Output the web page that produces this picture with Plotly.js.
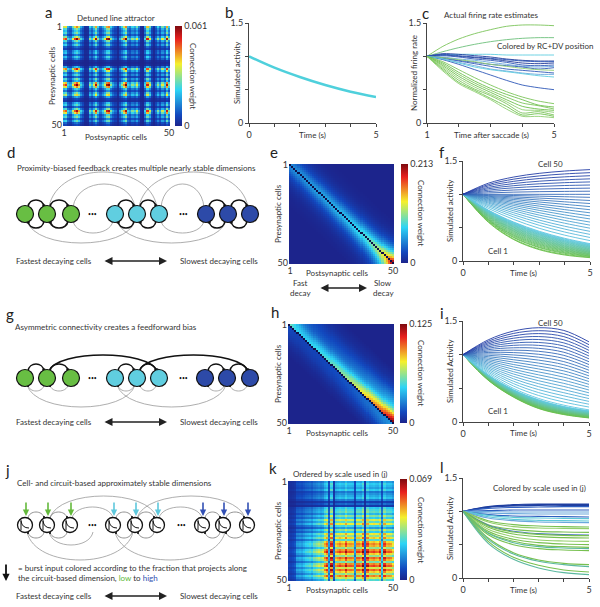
<!DOCTYPE html>
<html><head><meta charset="utf-8">
<script src="https://cdn.plot.ly/plotly-3.0.1.min.js"></script>
<style>html,body{margin:0;padding:0;background:#fff}#chart{width:600px;height:607px}</style>
</head><body><div id="chart"></div>
<script>
// ---------------- DATA ----------------
const cells = [1,2,3,4,5,6,7,8,9,10,11,12,13,14,15,16,17,18,19,20,21,22,23,24,25,26,27,28,29,30,31,32,33,34,35,36,37,38,39,40,41,42,43,44,45,46,47,48,49,50];

// panel a: detuned line attractor (row x column weights)
const maxA = 0.061;
const rowWeightA = [0.75,0.5,0.4,0.5,0.3,0.6,1.0,0.5,0.3,0.45,0.2,0.12,0.35,0.4,0.2,0.4,0.25,0.06,0.03,0.06,0.35,0.9,0.6,0.3,0.45,0.2,0.5,0.35,0.8,1.0,0.75,0.4,0.25,0.5,0.65,0.3,0.12,0.08,0.35,0.45,0.2,0.5,0.95,0.75,0.4,0.5,0.25,0.45,0.2,0.12];
const colWeightA = [0.75,0.85,0.4,0.3,0.6,0.85,1.0,0.75,0.4,0.25,0.06,0.08,0.5,0.35,0.6,0.95,0.5,0.25,0.4,0.6,0.95,1.0,0.5,0.3,0.2,0.06,0.3,0.5,0.75,1.0,0.4,0.3,0.5,0.4,0.6,0.3,0.06,0.03,0.4,0.9,0.6,0.2,0.06,0.25,0.5,0.3,0.6,0.4,0.95,0.5];

// panel b
const bTime = [0,1,2,3,4,5];
const bActivity = [1,0.83,0.69,0.57,0.47,0.39];

// panel c: actual firing rate estimates
const cTime = [1,1.5,2,2.5,3,3.5,4,4.5,5];
const cRates = [
 [1,1.15,1.26,1.34,1.4,1.45,1.47,1.47,1.46],
 [1,1.07,1.13,1.18,1.22,1.25,1.27,1.28,1.28],
 [1,1.02,1.03,1.03,1.03,1.02,1.02,1.02,1.02],
 [1,1.04,1.03,1.01,0.99,0.96,0.94,0.93,0.93],
 [1,1.03,1.01,0.99,0.97,0.95,0.93,0.92,0.92],
 [1,1.02,1.0,0.98,0.96,0.93,0.9,0.89,0.9],
 [1,1.01,0.99,0.96,0.94,0.91,0.87,0.86,0.87],
 [1,0.99,0.96,0.94,0.91,0.88,0.85,0.84,0.85],
 [1,0.98,0.94,0.91,0.88,0.86,0.84,0.81,0.83],
 [1,0.97,0.93,0.89,0.85,0.81,0.79,0.77,0.75],
 [1,0.98,0.95,0.92,0.88,0.85,0.82,0.8,0.79],
 [1,0.96,0.91,0.86,0.81,0.78,0.75,0.73,0.73],
 [1,0.95,0.88,0.8,0.72,0.64,0.57,0.53,0.5],
 [1,0.96,0.9,0.84,0.8,0.77,0.74,0.71,0.69],
 [1,0.92,0.8,0.68,0.57,0.47,0.39,0.33,0.29],
 [1,0.9,0.76,0.63,0.52,0.43,0.35,0.27,0.24],
 [1,0.88,0.73,0.6,0.49,0.39,0.3,0.26,0.21],
 [1,0.86,0.7,0.57,0.46,0.35,0.25,0.21,0.19],
 [1,0.84,0.67,0.54,0.43,0.32,0.2,0.19,0.16],
 [1,0.82,0.64,0.51,0.41,0.29,0.15,0.17,0.12],
 [1,0.8,0.61,0.49,0.37,0.25,0.12,0.14,0.1],
 [1,0.78,0.59,0.47,0.35,0.21,0.1,0.1,0.08]
];
const cColors = ['#7cc45a','#6cc07a','#5fcde0','#1f3a9a','#2f58b8','#1f3a9a','#2f58b8','#6aa8dc','#2f58b8','#2f58b8','#8fcf70','#6aa8dc','#2f58b8','#5fcde0','#7cc45a','#6cbf4c','#7cc45a','#6cbf4c','#8fcf70','#7cc45a','#6cbf4c','#8fcf70'];

// panel e: proximity-biased feedback
const maxE = 0.213;
const eCellStrength = [0.22,0.22,0.22,0.23,0.23,0.23,0.23,0.24,0.24,0.24,0.25,0.25,0.25,0.26,0.26,0.26,0.27,0.27,0.27,0.28,0.28,0.29,0.29,0.30,0.30,0.31,0.31,0.32,0.33,0.33,0.34,0.35,0.36,0.37,0.38,0.39,0.40,0.41,0.43,0.45,0.47,0.49,0.52,0.55,0.58,0.62,0.68,0.75,0.86,1.0];
const eOffsetProfile = [null,1,0.9,0.78,0.66,0.55,0.45,0.37,0.3,0.24,0.19,0.15,0.12,0.09,0.07,0.05,0.04,0.03,0.02,0.015,0.01,0,0,0,0,0,0,0,0,0,0,0,0,0,0,0,0,0,0,0,0,0,0,0,0,0,0,0,0,0];

// panel h: asymmetric connectivity
const maxH = 0.125;
const hCellStrength = [0.45,0.42,0.39,0.37,0.36,0.35,0.35,0.35,0.35,0.36,0.36,0.37,0.37,0.38,0.38,0.39,0.4,0.4,0.41,0.42,0.43,0.44,0.45,0.46,0.47,0.48,0.49,0.5,0.52,0.53,0.55,0.56,0.58,0.6,0.62,0.64,0.66,0.68,0.7,0.72,0.74,0.76,0.78,0.8,0.82,0.85,0.88,0.92,0.96,1.0];
const hUpperProfile = [null,1,0.95,0.88,0.8,0.7,0.6,0.52,0.45,0.4,0.36,0.33,0.3,0.27,0.24,0.21,0.18,0.15,0.12,0.1,0.08,0.06,0.05,0.04,0.03,0.02,0.01,0,0,0,0,0,0,0,0,0,0,0,0,0,0,0,0,0,0,0,0,0,0,0];
const hLowerProfile = [null,0.25,0.25,0.24,0.22,0.2,0.18,0.15,0.12,0.1,0.08,0.06,0.04,0.03,0.02,0.01,0,0,0,0,0,0,0,0,0,0,0,0,0,0,0,0,0,0,0,0,0,0,0,0,0,0,0,0,0,0,0,0,0,0];

// panel k: ordered by scale used in (j)
const maxK = 0.069;
const rowWeightK = [0.33,0.42,0.38,0.33,0.42,0.24,0.3,0.35,0.4,0.25,0.1,0.2,0.08,0.42,0.48,0.52,0.38,0.58,0.43,0.7,0.52,0.75,0.48,0.32,0.6,0.43,0.75,0.6,0.8,0.5,0.8,0.9,0.85,0.6,0.9,1.0,0.8,0.6,0.95,0.85,0.55,0.9,1.0,0.7,0.95,0.8,0.6,0.9,0.7,0.5];
const colWeightK = [0.1,0.1,0.12,0.15,0.3,0.32,0.3,0.35,0.4,0.42,0.45,0.4,0.5,0.55,0.6,0.55,0.6,0.8,0.9,0.3,1.0,0.2,0.75,0.8,0.85,0.8,0.78,0.95,0.8,0.82,0.8,0.3,0.85,0.85,0.8,1.0,0.2,0.95,0.8,0.82,0.85,0.8,0.78,0.9,0.4,0.95,0.8,0.82,0.8,0.7];

// panels f, i, l: simulated activity
const simTime = [0,1,2,3,4,5];
const fActivity = [
 [1,0.58,0.32,0.17,0.09,0.05],[1,0.59,0.33,0.18,0.1,0.058],[1,0.6,0.35,0.2,0.115,0.067],[1,0.61,0.36,0.21,0.126,0.075],[1,0.62,0.375,0.225,0.137,0.083],
 [1,0.621,0.386,0.239,0.149,0.092],[1,0.631,0.398,0.251,0.159,0.1],[1,0.641,0.411,0.263,0.169,0.108],[1,0.65,0.423,0.275,0.179,0.116],[1,0.66,0.436,0.287,0.19,0.125],
 [1,0.668,0.446,0.298,0.199,0.133],[1,0.676,0.457,0.309,0.209,0.141],[1,0.684,0.468,0.32,0.219,0.15],[1,0.691,0.477,0.33,0.228,0.158],[1,0.698,0.487,0.34,0.237,0.166],
 [1,0.706,0.498,0.352,0.248,0.175],[1,0.712,0.507,0.361,0.257,0.183],[1,0.718,0.516,0.37,0.266,0.191],[1,0.725,0.526,0.381,0.276,0.2],[1,0.731,0.534,0.391,0.286,0.208],
 [1,0.736,0.542,0.399,0.293,0.216],[1,0.742,0.551,0.409,0.303,0.225],[1,0.747,0.558,0.417,0.311,0.233],[1,0.752,0.566,0.425,0.32,0.241],[1,0.758,0.575,0.435,0.33,0.25],
 [1,0.764,0.584,0.446,0.341,0.26],[1,0.789,0.623,0.491,0.388,0.306],[1,0.812,0.66,0.536,0.435,0.353],[1,0.832,0.692,0.576,0.479,0.399],[1,0.85,0.723,0.614,0.522,0.445],
 [1,0.868,0.753,0.654,0.567,0.492],[1,0.883,0.78,0.689,0.609,0.538],[1,0.898,0.806,0.724,0.65,0.584],[1,0.912,0.832,0.759,0.692,0.631],[1,0.925,0.855,0.791,0.732,0.677],
 [1,0.937,0.878,0.823,0.771,0.723],[1,0.949,0.9,0.854,0.81,0.769],[1,0.96,0.922,0.885,0.85,0.816],[1,0.971,0.942,0.915,0.888,0.862],[1,0.981,0.962,0.944,0.926,0.908],
 [1,0.991,0.982,0.973,0.964,0.955],[1,1,1,1,1,1],[1,1.021,1.033,1.04,1.044,1.047],[1,1.042,1.065,1.079,1.087,1.093],[1,1.063,1.098,1.119,1.132,1.14],
 [1,1.084,1.13,1.158,1.175,1.186],[1,1.104,1.162,1.197,1.218,1.232],[1,1.126,1.195,1.237,1.262,1.279],[1,1.146,1.228,1.276,1.306,1.325],[1,1.167,1.26,1.315,1.349,1.371]
];
const iActivity = [
 [1,0.62,0.37,0.2,0.11,0.06],[1,0.623,0.375,0.205,0.115,0.064],[1,0.627,0.379,0.211,0.12,0.069],[1,0.63,0.384,0.216,0.125,0.073],[1,0.633,0.388,0.222,0.13,0.078],
 [1,0.637,0.393,0.227,0.135,0.082],[1,0.64,0.398,0.233,0.14,0.086],[1,0.643,0.402,0.238,0.145,0.091],[1,0.647,0.407,0.243,0.15,0.095],[1,0.65,0.411,0.249,0.155,0.099],
 [1,0.653,0.416,0.254,0.16,0.104],[1,0.657,0.42,0.26,0.165,0.108],[1,0.66,0.425,0.265,0.17,0.113],[1,0.663,0.43,0.27,0.175,0.117],[1,0.667,0.434,0.276,0.18,0.121],
 [1,0.67,0.439,0.281,0.185,0.126],[1,0.673,0.443,0.287,0.19,0.13],[1,0.677,0.448,0.292,0.195,0.134],[1,0.68,0.453,0.298,0.2,0.139],[1,0.683,0.457,0.303,0.205,0.143],
 [1,0.687,0.462,0.308,0.21,0.148],[1,0.69,0.466,0.314,0.215,0.152],[1,0.693,0.471,0.319,0.22,0.156],[1,0.697,0.475,0.325,0.225,0.161],[1,0.7,0.48,0.33,0.23,0.165],
 [1,0.72,0.5,0.35,0.25,0.18],[1,0.741,0.535,0.394,0.296,0.222],[1,0.762,0.571,0.437,0.342,0.264],[1,0.783,0.606,0.481,0.389,0.306],[1,0.803,0.642,0.525,0.435,0.348],
 [1,0.824,0.677,0.569,0.481,0.39],[1,0.845,0.713,0.613,0.528,0.433],[1,0.866,0.748,0.656,0.574,0.475],[1,0.887,0.783,0.7,0.62,0.517],[1,0.908,0.819,0.744,0.666,0.559],
 [1,0.928,0.854,0.788,0.713,0.601],[1,0.949,0.89,0.831,0.759,0.643],[1,0.97,0.925,0.875,0.805,0.685],[1,0.991,0.96,0.919,0.851,0.727],[1,1.012,0.996,0.963,0.897,0.769],
 [1,1.033,1.031,1.006,0.944,0.811],[1,1.053,1.067,1.05,0.99,0.853],[1,1.074,1.102,1.094,1.036,0.895],[1,1.095,1.138,1.138,1.083,0.938],[1,1.116,1.173,1.181,1.129,0.98],
 [1,1.137,1.208,1.225,1.175,1.022],[1,1.158,1.244,1.269,1.221,1.064],[1,1.178,1.279,1.313,1.268,1.106],[1,1.199,1.315,1.356,1.314,1.148],[1,1.22,1.35,1.4,1.36,1.19]
];
const lActivity = [
 [1,1.07,1.1,1.11,1.11,1.11],[1,1.065,1.09,1.1,1.1,1.1],[1,1.06,1.08,1.09,1.09,1.09],[1,1.045,1.06,1.065,1.07,1.07],
 [1,1.01,1.02,1.02,1.02,1.02],[1,0.995,0.99,0.99,0.99,0.99],[1,0.975,0.965,0.96,0.96,0.96],[1,0.95,0.93,0.925,0.92,0.915],
 [1,0.94,0.91,0.9,0.895,0.89],[1,0.92,0.88,0.865,0.86,0.855],[1,0.9,0.86,0.84,0.835,0.83],[1,0.86,0.8,0.78,0.77,0.765],
 [1,0.84,0.77,0.75,0.745,0.74],[1,0.8,0.73,0.7,0.69,0.685],[1,0.79,0.7,0.665,0.65,0.645],[1,0.78,0.69,0.655,0.64,0.635],
 [1,0.76,0.66,0.62,0.605,0.6],[1,0.73,0.62,0.57,0.555,0.55],[1,0.7,0.58,0.53,0.51,0.5],[1,0.68,0.55,0.49,0.47,0.46],
 [1,0.67,0.53,0.47,0.45,0.44],[1,0.65,0.5,0.44,0.42,0.41],[1,0.6,0.38,0.27,0.22,0.2],[1,0.58,0.36,0.25,0.2,0.17],
 [1,0.55,0.31,0.19,0.12,0.09],[1,0.52,0.28,0.15,0.08,0.05]
];
const lColors = ['#1f3fa0','#1f3fa0','#1f3fa0','#2f5fc0','#2f5fc0','#6aa8dc','#6aa8dc','#2f5fc0','#5ec8d8','#5ec8d8','#6aa8dc','#78c050','#94cf6a','#78c050','#4a78c0','#78c050','#78c050','#94cf6a','#78c050','#78c050','#5bb8a0','#78c050','#78c050','#5bb8a0','#78c050','#5bb8a0'];

// ---------------- BUILD ----------------
const W = 600, H = 607;
const dx = (a,b) => [a/W, b/W];
const dy = (top,bottom) => [1-bottom/H, 1-top/H];
const jet = [[0,'rgb(28,36,140)'],[0.11,'rgb(18,72,190)'],[0.36,'rgb(45,212,245)'],[0.62,'rgb(245,240,45)'],[0.87,'rgb(232,32,30)'],[1,'rgb(125,10,15)']];

function cellColor(k){ // k=0..49 : green -> cyan -> blue
  const g=[104,190,70], c=[95,200,225], b=[35,60,165];
  const t=k/49; let a,z,u;
  if(t<0.5){a=g;z=c;u=t/0.5;} else {a=c;z=b;u=(t-0.5)/0.5;}
  return 'rgb('+a.map((v,i)=>Math.round(v+(z[i]-v)*u)).join(',')+')';
}
function cbar(left, top, bottom, max, label){
  return {x:left/W, xanchor:'left', y:1-(top+bottom)/2/H, yanchor:'middle', len:bottom-top, lenmode:'pixels',
    thickness:7, xpad:0, ypad:0, outlinewidth:0, tickvals:[0,max], ticktext:['0',label], ticks:'',
    tickfont:{size:9,color:'#333'}};
}

const zA = rowWeightA.map(r => colWeightA.map(c => maxA*r*c));
const zE = cells.map((_,i)=>cells.map((_,j)=>{const p=eOffsetProfile[Math.abs(i-j)]; return p===null?null:maxE*(eCellStrength[i]+eCellStrength[j])/2*p;}));
const zH = cells.map((_,i)=>cells.map((_,j)=>{const d=Math.abs(i-j); const p=(j>i?hUpperProfile:hLowerProfile)[d]; return p===null?null:maxH*(hCellStrength[i]+hCellStrength[j])/2*p;}));
const zK = rowWeightK.map(r => colWeightK.map(c => maxK*r*c));

const traces = [];
const hm = (z,xa,ya,max,cb) => ({type:'heatmap',z,x:cells,y:cells,xaxis:xa,yaxis:ya,colorscale:jet,zmin:0,zmax:max,colorbar:cb,hoverinfo:'skip'});
traces.push(hm(zA,'x','y',maxA,cbar(175,26,126,maxA,'0.061')));
traces.push(hm(zE,'x4','y4',maxE,cbar(401,164,263,maxE,'0.213')));
traces.push(hm(zH,'x6','y6',maxH,cbar(400,324,423,maxH,'0.125')));
traces.push(hm(zK,'x8','y8',maxK,cbar(400,479,580,maxK,'0.069')));

traces.push({type:'scatter',mode:'lines',x:bTime,y:bActivity,xaxis:'x2',yaxis:'y2',line:{color:'#4fd0dc',width:2.5,shape:'spline'},hoverinfo:'skip'});
cRates.forEach((s,i)=>traces.push({type:'scatter',mode:'lines',x:cTime,y:s,xaxis:'x3',yaxis:'y3',line:{color:cColors[i],width:0.9,shape:'spline',smoothing:0.8},hoverinfo:'skip'}));
fActivity.forEach((s,i)=>traces.push({type:'scatter',mode:'lines',x:simTime,y:s,xaxis:'x5',yaxis:'y5',line:{color:cellColor(i),width:0.9,shape:'spline'},hoverinfo:'skip'}));
iActivity.forEach((s,i)=>traces.push({type:'scatter',mode:'lines',x:simTime,y:s,xaxis:'x7',yaxis:'y7',line:{color:cellColor(i),width:0.9,shape:'spline'},hoverinfo:'skip'}));
lActivity.forEach((s,i)=>traces.push({type:'scatter',mode:'lines',x:simTime,y:s,xaxis:'x9',yaxis:'y9',line:{color:lColors[i],width:1.1,shape:'spline'},hoverinfo:'skip'}));
traces.push({type:'scatter',x:[],y:[],xaxis:'x10',yaxis:'y10',hoverinfo:'skip'});

// axes
const tf = {size:9,color:'#333'};
function hmX(dom,anchor){return {domain:dom,anchor,range:[0.5,50.5],tickvals:[1,50],ticks:'',showgrid:false,zeroline:false,showline:false,tickfont:tf,fixedrange:true};}
function hmY(dom,anchor){return {domain:dom,anchor,range:[50.5,0.5],tickvals:[1,50],ticks:'',showgrid:false,zeroline:false,showline:false,tickfont:tf,fixedrange:true};}
function lnX(dom,anchor,range,tv,tt){return {domain:dom,anchor,range,tickvals:tv,ticktext:tt,showline:true,linecolor:'#444',linewidth:1,ticks:'outside',ticklen:3,tickcolor:'#444',showgrid:false,zeroline:false,tickfont:tf,fixedrange:true};}
const yTv=[0,0.5,1,1.5], yTt=['0','','','1.5'];
const tTv=[0,1,2,3,4,5], tTt=['0','','','','','5'];

const layout = {
  width:W, height:H, margin:{l:0,r:0,t:0,b:0}, showlegend:false,
  paper_bgcolor:'#fff', plot_bgcolor:'rgba(0,0,0,0)',
  font:{family:'Lato, "Open Sans", sans-serif', size:9, color:'#333'},
  xaxis:hmX(dx(63,170),'y'), yaxis:hmY(dy(26,126),'x'),
  xaxis2:lnX(dx(249,376),'y2',[0,5],tTv,tTt), yaxis2:lnX(dy(23,123),'x2',[0,1.5],yTv,yTt),
  xaxis3:lnX(dx(427,554),'y3',[1,5],[1,2,3,4,5],['1','','','','5']), yaxis3:lnX(dy(23,123),'x3',[0,1.5],yTv,yTt),
  xaxis4:hmX(dx(289,394),'y4'), yaxis4:hmY(dy(164,264),'x4'),
  xaxis5:lnX(dx(463,590),'y5',[0,5],tTv,tTt), yaxis5:lnX(dy(161,261),'x5',[0,1.5],yTv,yTt),
  xaxis6:hmX(dx(288,394),'y6'), yaxis6:hmY(dy(324,424),'x6'),
  xaxis7:lnX(dx(463,589),'y7',[0,5],tTv,tTt), yaxis7:lnX(dy(321,422),'x7',[0,1.5],yTv,yTt),
  xaxis8:hmX(dx(288,394),'y8'), yaxis8:hmY(dy(481,581),'x8'),
  xaxis9:lnX(dx(463,589),'y9',[0,5],tTv,tTt), yaxis9:lnX(dy(478,578),'x9',[0,1.5],yTv,yTt),
  xaxis10:{domain:[0,1],anchor:'y10',range:[0,W],visible:false,fixedrange:true},
  yaxis10:{domain:[0,1],anchor:'x10',range:[H,0],visible:false,fixedrange:true}
};

// ---------- diagrams & text ----------
const shapes = [], ann = [];
const X='x10', Y='y10';
// dark backing for the heatmap diagonals (empty cells)
[['x4','y4'],['x6','y6']].forEach(([xa,ya])=>shapes.push({type:'rect',xref:xa,yref:ya,x0:0.5,x1:50.5,y0:0.5,y1:50.5,fillcolor:'#10104a',line:{width:0},layer:'below'}));
function circ(cx,cy,r,fill,lc,w){shapes.push({type:'circle',xref:X,yref:Y,x0:cx-r,x1:cx+r,y0:cy-r,y1:cy+r,fillcolor:fill,line:{color:lc,width:w},layer:'above'});}
function pth(d,color,w){shapes.push({type:'path',xref:X,yref:Y,path:d,fillcolor:'rgba(0,0,0,0)',line:{color,width:w},layer:'above'});}
function arc(x1,x2,y0,peak,color,w){const cy=y0+(peak-y0)/0.75; const k=(x2-x1)*0.08; pth(`M ${x1},${y0} C ${x1+k},${cy} ${x2-k},${cy} ${x2},${y0}`,color,w);}
function dot(x,y,r){circ(x,y,r,'#111','#111',0);}
function T(text,x,y,o){ann.push(Object.assign({text,x,y,xref:X,yref:Y,showarrow:false,xanchor:'center',yanchor:'middle',font:{size:8}},o||{}));}
function dbl(x1,x2,y){ann.push({x:x2,y,ax:x1,ay:y,xref:X,yref:Y,axref:X,ayref:Y,text:'',showarrow:true,arrowhead:2,startarrowhead:2,arrowside:'end+start',arrowsize:1,startarrowsize:1,arrowwidth:1.6,arrowcolor:'#222'});}
function down(x,y1,y2,color,w){ann.push({x,y:y2,ax:x,ay:y1,xref:X,yref:Y,axref:X,ayref:Y,text:'',showarrow:true,arrowhead:2,arrowsize:0.8,arrowwidth:w,arrowcolor:color});}

const GREEN='rgb(104,190,67)', CYAN='rgb(96,206,224)', BLUE='rgb(45,74,168)';
const fills=[GREEN,GREEN,GREEN,CYAN,CYAN,CYAN,BLUE,BLUE,BLUE];
const pairs=[[0,1],[1,2],[3,4],[4,5],[6,7],[7,8]];

// panel d
{ const y=214, xs=[25,47,71,115,137,159,206,228,250], r=8.5;
  arc(49,157,y-7,172,'#999',0.8); arc(73,135,y-7,184,'#999',0.8); arc(139,248,y-7,172,'#999',0.8); arc(161,204,y-7,184,'#999',0.8);
  arc(27,135,y+7,243,'#999',0.8); arc(117,226,y+7,243,'#999',0.8); arc(73,113,y+7,233,'#999',0.8); arc(161,204,y+7,233,'#999',0.8);
  pairs.forEach(([a,b])=>{const xa=xs[a],xb=xs[b];
    arc(xa+3,xb-3,y-7,y-14,'#111',1.7); dot(xb-3,y-8,1.8);
    arc(xb-3,xa+3,y+7,y+14,'#111',1.7); dot(xa+3,y+8,1.8);});
  xs.forEach((x,i)=>circ(x,y,r,fills[i],'#111',1.2));
  T('•••',92,y,{font:{size:5,color:'#111'}}); T('•••',183,y,{font:{size:5,color:'#111'}});
  T('Proximity-biased feedback creates multiple nearly stable dimensions',136,168);
  T('Fastest decaying cells',54,261); T('Slowest decaying cells',219,261); dbl(103,167,261);
}
// panel g
{ const y=378, xs=[25,47,71,115,137,159,205,227,250], r=8.5;
  arc(27,135,y+7,407,'#999',0.8); arc(117,226,y+7,407,'#999',0.8);
  arc(49,157,y-7,355,'#111',1.6); dot(157,y-8,1.8); arc(139,248,y-7,355,'#111',1.6); dot(248,y-8,1.8);
  pairs.forEach(([a,b])=>{const xa=xs[a],xb=xs[b];
    arc(xa+3,xb-3,y-7,y-14,'#111',1.6); dot(xb-3,y-8,1.8);
    arc(xb-3,xa+3,y+7,y+13,'#999',0.8); dot(xa+3,y+8,1.1);});
  xs.forEach((x,i)=>circ(x,y,r,fills[i],'#111',1.2));
  T('•••',92,y,{font:{size:5,color:'#111'}}); T('•••',183,y,{font:{size:5,color:'#111'}});
  T('Asymmetric connectivity creates a feedforward bias',106,327);
  T('Fastest decaying cells',54,422); T('Slowest decaying cells',219,422); dbl(103,167,422);
}
// panel j
{ const y=525, xs=[25,47,70,113,135,157,202,223,247], r=7.5;
  const acol=['rgb(100,185,60)','rgb(100,185,60)','rgb(100,185,60)','rgb(95,200,220)','rgb(95,200,220)','rgb(95,200,220)','rgb(50,80,180)','rgb(50,80,180)','rgb(50,80,180)'];
  arc(50,157,y-7,496,'#999',0.8); arc(137,245,y-7,496,'#999',0.8); arc(72,113,y-7,507,'#999',0.8); arc(159,202,y-7,507,'#999',0.8);
  arc(27,133,y+7,560,'#999',0.8); arc(115,225,y+7,560,'#999',0.8); arc(49,93,y+7,545,'#999',0.8);
  pairs.forEach(([a,b])=>{const xa=xs[a],xb=xs[b];
    arc(xa+3,xb-3,y-7,y-13,'#777',0.8); dot(xb-3,y-8,1.1);
    arc(xb-3,xa+3,y+7,y+13,'#777',0.8); dot(xa+3,y+8,1.1);});
  xs.forEach((x,i)=>{circ(x,y,r,'#fff','#111',1.3);
    pth(`M ${x-4},${y-5} L ${x-4},${y+5}`,'#111',1);
    pth(`M ${x-4},${y-4} Q ${x-3},${y+3} ${x+4},${y+3}`,'#111',1);
    down(x+1,501,516,acol[i],1.6);});
  T('•••',92,y,{font:{size:5,color:'#111'}}); T('•••',181,y,{font:{size:5,color:'#111'}});
  T('Cell- and circuit-based approximately stable dimensions',114,483);
  down(6,563,581,'#111',1.8);
  T('= burst input colored according to the fraction that projects along',16,568,{xanchor:'left'});
  T('the circuit-based dimension, <span style="color:#5cb83a">low</span> to <span style="color:#3050b0">high</span>',16,578,{xanchor:'left'});
  T('Fastest decaying cells',54,596); T('Slowest decaying cells',219,596); dbl(103,167,596);
}

// panel letters
[['a',48,12],['b',229,12],['c',425,13],['d',11,152],['e',274,152],['f',442,152],['g',10,314],['h',275,312],['i',442,313],['j',7,470],['k',273,468],['l',442,467]]
  .forEach(([t,x,y])=>T(t,x,y,{font:{size:15,color:'#222'}}));

// axis / panel texts
T('Detuned line attractor',116,18);
T('Presynaptic cells',52,76,{textangle:-90}); T('Postsynaptic cells',116,137);
T('Connection weight',193,76,{textangle:90});
T('Simulated activity',237,73,{textangle:-90}); T('Time (s)',312,135);
T('Normalized firing rate',414,73,{textangle:-90}); T('Time after saccade (s)',491,135);
T('Actual firing rate estimates',491,15); T('Colored by RC+DV position',545,46);
T('Presynaptic cells',278,214,{textangle:-90}); T('Postsynaptic cells',337,273);
T('Fast',300,283); T('decay',300,293); T('Slow',383,283); T('decay',383,293); dbl(319,367,288);
T('Connection weight',421,213,{textangle:90});
T('Simulated activity',450,211,{textangle:-90}); T('Time (s)',523,273);
T('Cell 50',550,164); T('Cell 1',498,251);
T('Presynaptic cells',278,374,{textangle:-90}); T('Postsynaptic cells',337,433);
T('Connection weight',421,373,{textangle:90});
T('Simulated Activity',450,371,{textangle:-90}); T('Time (s)',523,433);
T('Cell 50',550,323); T('Cell 1',498,411);
T('Ordered by scale used in (j)',340,474);
T('Presynaptic cells',278,531,{textangle:-90}); T('Postsynaptic cells',337,590);
T('Connection weight',421,530,{textangle:90});
T('Simulated Activity',450,528,{textangle:-90}); T('Time (s)',523,590);
T('Colored by scale used in (j)',539,488);

layout.shapes = shapes; layout.annotations = ann;
Plotly.newPlot('chart', traces, layout, {staticPlot:true, displayModeBar:false});
</script></body></html>
